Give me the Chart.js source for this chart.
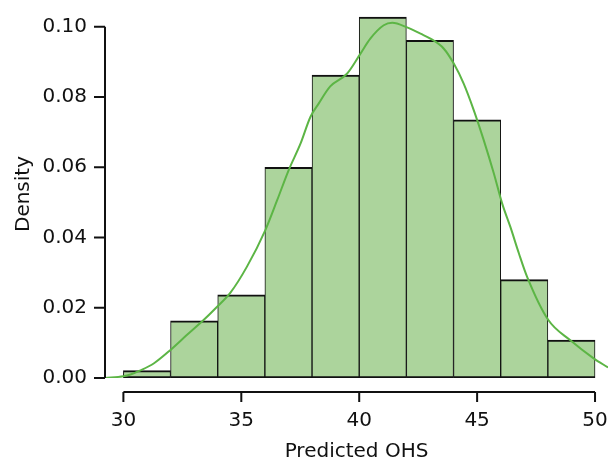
<!DOCTYPE html>
<html>
<head>
<meta charset="utf-8">
<script src="https://cdn.jsdelivr.net/npm/chart.js@4"></script>
<style>
  html, body { margin: 0; padding: 0; background: #fff; }
  #wrap { width: 608px; height: 462px; }
</style>
</head>
<body>
<div id="wrap"><canvas id="chart" width="608" height="462"></canvas></div>
<script>
// Histogram bins (bin centres, width 2)
const binCenters = [31, 33, 35, 37, 39, 41, 43, 45, 47, 49];
const binDensity = [0.0021, 0.0163, 0.0237, 0.0600, 0.0862, 0.1027, 0.0961, 0.0735, 0.0280, 0.0108];

// Kernel density curve
const curveX = [29.22, 30.0, 30.3, 30.7, 31.3, 32.0, 32.7, 33.4, 33.9, 34.54, 35.24, 36.02, 36.52, 37.01,
                37.51, 37.93, 38.28, 38.77, 39.48, 40.04, 40.47, 41.04, 41.4, 42.03, 42.6, 43.02, 43.58,
                44.01, 44.43, 44.86, 45.28, 45.71, 46.06, 46.41, 46.77, 47.12, 48.02, 48.94, 49.94, 50.55];
const curveY = [0.0000, 0.0005, 0.0010, 0.0021, 0.0042, 0.0080, 0.0123, 0.0165, 0.0198, 0.0243, 0.0317,
                0.0421, 0.0506, 0.0592, 0.0667, 0.0743, 0.0781, 0.0830, 0.0866, 0.0922, 0.0966, 0.1004,
                0.1011, 0.0998, 0.0980, 0.0966, 0.0938, 0.0895, 0.0838, 0.0762, 0.0677, 0.0582, 0.0497,
                0.0430, 0.0355, 0.0288, 0.0165, 0.0108, 0.0056, 0.0030];

const xTicks = [30, 35, 40, 45, 50];
const yTicks = [0.00, 0.02, 0.04, 0.06, 0.08, 0.10];

const FONT = "'DejaVu Sans', sans-serif";
const ink = '#111';

// R-style detached axes: lines only span the tick range
const axesPlugin = {
    id: 'axes',
    afterDraw(chart) {
        const ctx = chart.ctx;
        const xs = chart.scales.x, ys = chart.scales.y;
        const area = chart.chartArea;
        ctx.save();
        ctx.strokeStyle = ink;
        ctx.lineWidth = 2;
        // y axis
        const ax = area.left;
        ctx.beginPath();
        ctx.moveTo(ax, ys.getPixelForValue(yTicks[0]));
        ctx.lineTo(ax, ys.getPixelForValue(yTicks[yTicks.length - 1]));
        yTicks.forEach(v => {
            const p = ys.getPixelForValue(v);
            ctx.moveTo(ax - 11, p);
            ctx.lineTo(ax, p);
        });
        ctx.stroke();
        // x axis, dropped below the plot
        const ay = area.bottom + 14;
        ctx.beginPath();
        ctx.moveTo(xs.getPixelForValue(xTicks[0]), ay);
        ctx.lineTo(xs.getPixelForValue(xTicks[xTicks.length - 1]), ay);
        xTicks.forEach(v => {
            const p = xs.getPixelForValue(v);
            ctx.moveTo(p, ay);
            ctx.lineTo(p, ay + 10);
        });
        ctx.stroke();
        // x tick labels
        ctx.fillStyle = ink;
        ctx.font = '20px ' + FONT;
        ctx.textAlign = 'center';
        ctx.textBaseline = 'middle';
        xTicks.forEach(v => ctx.fillText(String(v), xs.getPixelForValue(v), ay + 29));
        ctx.restore();
    }
};

new Chart(document.getElementById('chart'), {
    data: {
        datasets: [
            {
                type: 'line',
                data: curveX.map((x, i) => ({ x: x, y: curveY[i] })),
                borderColor: '#5cb545',
                borderWidth: 2,
                pointRadius: 0,
                cubicInterpolationMode: 'monotone',
                fill: false,
                order: 0
            },
            {
                type: 'bar',
                data: binCenters.map((x, i) => ({ x: x, y: binDensity[i] })),
                backgroundColor: '#acd49c',
                borderColor: ink,
                borderWidth: { top: 2, bottom: 2, left: 1, right: 1 },
                borderSkipped: false,
                barPercentage: 1,
                categoryPercentage: 1,
                order: 1
            }
        ]
    },
    options: {
        responsive: false,
        animation: false,
        layout: { padding: { top: 10, right: 0, left: 0, bottom: 0 } },
        plugins: { legend: { display: false }, tooltip: { enabled: false } },
        scales: {
            x: {
                type: 'linear',
                min: 29.22,
                max: 50.55,
                offset: false,
                afterBuildTicks: s => { s.ticks = xTicks.map(v => ({ value: v })); },
                afterFit: s => { s.height = 84; s.paddingLeft = 0; s.paddingRight = 0; },
                border: { display: false },
                grid: { display: false, drawTicks: false },
                ticks: { display: false },
                title: {
                    display: true,
                    text: 'Predicted OHS',
                    color: ink,
                    font: { family: FONT, size: 20, lineHeight: 1.0 },
                    padding: { top: 0, bottom: 0 }
                }
            },
            y: {
                min: 0,
                max: 0.10475,
                afterBuildTicks: s => { s.ticks = yTicks.map(v => ({ value: v })); },
                afterFit: s => { s.width = 105; s.paddingTop = 0; s.paddingBottom = 0; },
                border: { display: false },
                grid: { display: false, drawTicks: false },
                ticks: {
                    padding: 18,
                    color: ink,
                    font: { family: FONT, size: 20 },
                    callback: v => v.toFixed(2)
                },
                title: {
                    display: true,
                    text: 'Density',
                    color: ink,
                    font: { family: FONT, size: 20 },
                    padding: { top: 12, bottom: 0 }
                }
            }
        }
    },
    plugins: [axesPlugin]
});
</script>
</body>
</html>
